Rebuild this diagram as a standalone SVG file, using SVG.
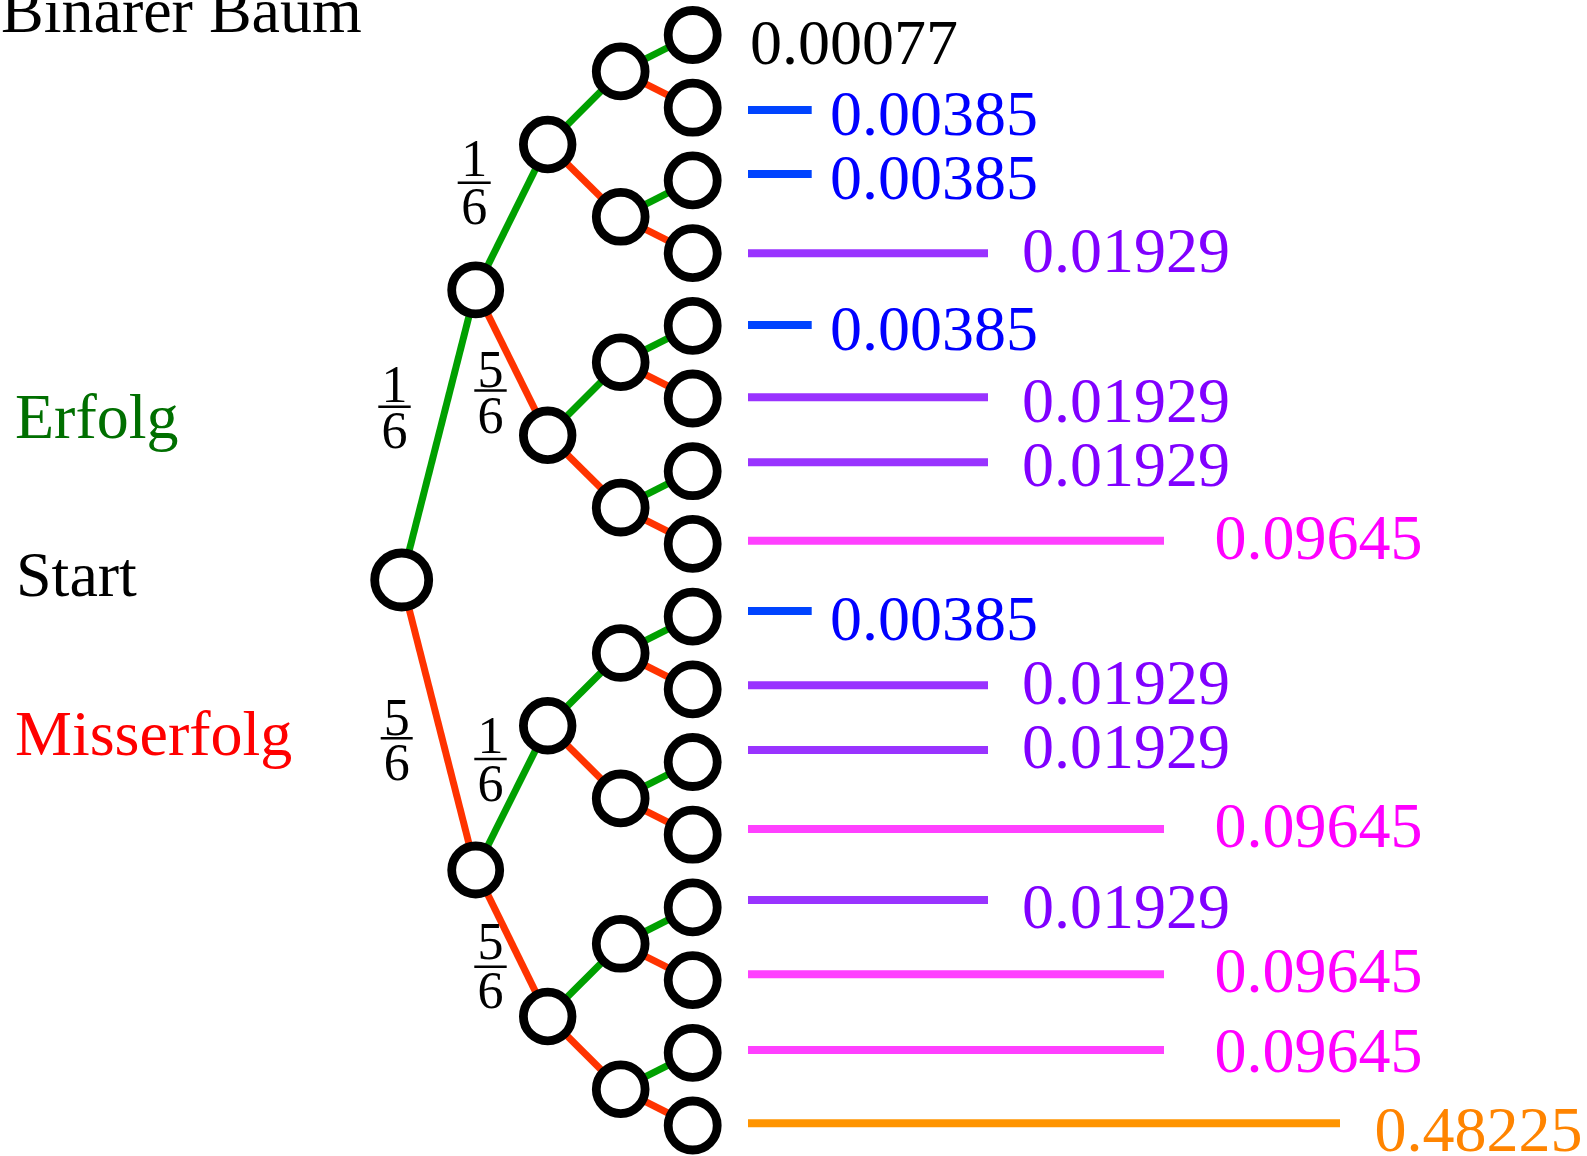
<svg xmlns="http://www.w3.org/2000/svg" width="1587" height="1156" viewBox="0 0 1587 1156">
  <style>
    text { font-family: "Liberation Serif", "Times New Roman", serif; }
    .big { font-size: 64px; }
    .frac { font-size: 52px; text-anchor: middle; fill: #000; }
    .bar { stroke: #000; stroke-width: 2.6; }
    .node { fill: #fff; stroke: #000; stroke-width: 8.8; }
    .succ { stroke: #00a000; stroke-width: 7; }
    .fail { stroke: #ff3300; stroke-width: 7; }
    .bl { stroke-width: 8; stroke-linecap: butt; }
    .c1 { stroke: #0044ff; }
    .c2 { stroke: #9933ff; }
    .c3 { stroke: #ff40ff; }
    .c4 { stroke: #ff9400; }
    .t0 { fill: #000; }
    .t1 { fill: #0000ff; }
    .t2 { fill: #8000ff; }
    .t3 { fill: #ff00ff; }
    .t4 { fill: #ff8400; }
  </style>

  <!-- title and side labels -->
  <text class="big" x="1" y="32" fill="#000">Binarer Baum</text>
  <text class="big" x="15" y="438" fill="#006f00">Erfolg</text>
  <text class="big" x="16" y="596" fill="#000">Start</text>
  <text class="big" x="15" y="755" fill="#ff0000">Misserfolg</text>

  <!-- connectors: green = success, red = failure -->
  <g id="connectors">
    <line class="succ" x1="401.7" y1="580" x2="475.7" y2="289.9"/>
    <line class="fail" x1="401.7" y1="580" x2="475.7" y2="870"/>

    <line class="succ" x1="475.7" y1="289.9" x2="547.7" y2="144.5"/>
    <line class="fail" x1="475.7" y1="289.9" x2="547.7" y2="435.3"/>
    <line class="succ" x1="475.7" y1="870" x2="547.7" y2="725.7"/>
    <line class="fail" x1="475.7" y1="870" x2="547.7" y2="1016.5"/>

    <line class="succ" x1="547.7" y1="144.5" x2="620.7" y2="71.4"/>
    <line class="fail" x1="547.7" y1="144.5" x2="620.7" y2="216.8"/>
    <line class="succ" x1="547.7" y1="435.3" x2="620.7" y2="362.2"/>
    <line class="fail" x1="547.7" y1="435.3" x2="620.7" y2="507.6"/>
    <line class="succ" x1="547.7" y1="725.7" x2="620.7" y2="653"/>
    <line class="fail" x1="547.7" y1="725.7" x2="620.7" y2="798.4"/>
    <line class="succ" x1="547.7" y1="1016.5" x2="620.7" y2="943.8"/>
    <line class="fail" x1="547.7" y1="1016.5" x2="620.7" y2="1089.2"/>

    <line class="succ" x1="620.7" y1="71.4" x2="692.7" y2="35"/>
    <line class="fail" x1="620.7" y1="71.4" x2="692.7" y2="107.7"/>
    <line class="succ" x1="620.7" y1="216.8" x2="692.7" y2="180.4"/>
    <line class="fail" x1="620.7" y1="216.8" x2="692.7" y2="253.1"/>
    <line class="succ" x1="620.7" y1="362.2" x2="692.7" y2="325.8"/>
    <line class="fail" x1="620.7" y1="362.2" x2="692.7" y2="398.5"/>
    <line class="succ" x1="620.7" y1="507.6" x2="692.7" y2="471.2"/>
    <line class="fail" x1="620.7" y1="507.6" x2="692.7" y2="543.9"/>
    <line class="succ" x1="620.7" y1="653" x2="692.7" y2="616.6"/>
    <line class="fail" x1="620.7" y1="653" x2="692.7" y2="689.3"/>
    <line class="succ" x1="620.7" y1="798.4" x2="692.7" y2="762"/>
    <line class="fail" x1="620.7" y1="798.4" x2="692.7" y2="834.7"/>
    <line class="succ" x1="620.7" y1="943.8" x2="692.7" y2="907.4"/>
    <line class="fail" x1="620.7" y1="943.8" x2="692.7" y2="980.1"/>
    <line class="succ" x1="620.7" y1="1089.2" x2="692.7" y2="1052.8"/>
    <line class="fail" x1="620.7" y1="1089.2" x2="692.7" y2="1125.5"/>
  </g>

  <!-- branch probabilities -->
  <g id="fractions">
    <text class="frac" x="394.5" y="401.7">1</text>
    <line class="bar" x1="378.3" y1="406.7" x2="410.7" y2="406.7"/>
    <text class="frac" x="394.5" y="448.3">6</text>

    <text class="frac" x="474.2" y="176">1</text>
    <line class="bar" x1="457.7" y1="182.7" x2="490.7" y2="182.7"/>
    <text class="frac" x="474.2" y="224">6</text>

    <text class="frac" x="490.5" y="387.3">5</text>
    <line class="bar" x1="474.3" y1="390.5" x2="506.7" y2="390.5"/>
    <text class="frac" x="490.5" y="433.3">6</text>

    <text class="frac" x="396.7" y="735">5</text>
    <line class="bar" x1="380.7" y1="738.3" x2="412.7" y2="738.3"/>
    <text class="frac" x="396.7" y="780">6</text>

    <text class="frac" x="490.5" y="753.3">1</text>
    <line class="bar" x1="474.3" y1="759" x2="506.7" y2="759"/>
    <text class="frac" x="490.5" y="800.7">6</text>

    <text class="frac" x="490.5" y="959.3">5</text>
    <line class="bar" x1="474.3" y1="966.7" x2="506.7" y2="966.7"/>
    <text class="frac" x="490.5" y="1007.7">6</text>
  </g>

  <!-- nodes -->
  <g id="n-root"><circle class="node" cx="401.7" cy="580" r="27"/></g>
  <g id="n-e"><circle class="node" cx="475.7" cy="289.9" r="24"/></g>
  <g id="n-m"><circle class="node" cx="475.7" cy="870" r="24"/></g>
  <g id="n-ee"><circle class="node" cx="547.7" cy="144.5" r="24.3"/></g>
  <g id="n-em"><circle class="node" cx="547.7" cy="435.3" r="24.3"/></g>
  <g id="n-me"><circle class="node" cx="547.7" cy="725.7" r="24.3"/></g>
  <g id="n-mm"><circle class="node" cx="547.7" cy="1016.5" r="24.3"/></g>
  <g id="n-eee"><circle class="node" cx="620.7" cy="71.4" r="24.4"/></g>
  <g id="n-eem"><circle class="node" cx="620.7" cy="216.8" r="24.4"/></g>
  <g id="n-eme"><circle class="node" cx="620.7" cy="362.2" r="24.4"/></g>
  <g id="n-emm"><circle class="node" cx="620.7" cy="507.6" r="24.4"/></g>
  <g id="n-mee"><circle class="node" cx="620.7" cy="653" r="24.4"/></g>
  <g id="n-mem"><circle class="node" cx="620.7" cy="798.4" r="24.4"/></g>
  <g id="n-mme"><circle class="node" cx="620.7" cy="943.8" r="24.4"/></g>
  <g id="n-mmm"><circle class="node" cx="620.7" cy="1089.2" r="24.4"/></g>
  <g id="n-eeee"><circle class="node" cx="692.7" cy="35" r="24.5"/></g>
  <g id="n-eeem"><circle class="node" cx="692.7" cy="107.7" r="24.5"/></g>
  <g id="n-eeme"><circle class="node" cx="692.7" cy="180.4" r="24.5"/></g>
  <g id="n-eemm"><circle class="node" cx="692.7" cy="253.1" r="24.5"/></g>
  <g id="n-emee"><circle class="node" cx="692.7" cy="325.8" r="24.5"/></g>
  <g id="n-emem"><circle class="node" cx="692.7" cy="398.5" r="24.5"/></g>
  <g id="n-emme"><circle class="node" cx="692.7" cy="471.2" r="24.5"/></g>
  <g id="n-emmm"><circle class="node" cx="692.7" cy="543.9" r="24.5"/></g>
  <g id="n-meee"><circle class="node" cx="692.7" cy="616.6" r="24.5"/></g>
  <g id="n-meem"><circle class="node" cx="692.7" cy="689.3" r="24.5"/></g>
  <g id="n-meme"><circle class="node" cx="692.7" cy="762" r="24.5"/></g>
  <g id="n-memm"><circle class="node" cx="692.7" cy="834.7" r="24.5"/></g>
  <g id="n-mmee"><circle class="node" cx="692.7" cy="907.4" r="24.5"/></g>
  <g id="n-mmem"><circle class="node" cx="692.7" cy="980.1" r="24.5"/></g>
  <g id="n-mmme"><circle class="node" cx="692.7" cy="1052.8" r="24.5"/></g>
  <g id="n-mmmm"><circle class="node" cx="692.7" cy="1125.5" r="24.5"/></g>

  <!-- path probabilities: bar length on a log scale -->
  <g id="results">
    <text class="big t0" x="750" y="64.3">0.00077</text>

    <line class="bl c1" x1="748" y1="110" x2="811.7" y2="110"/>
    <text class="big t1" x="830" y="135">0.00385</text>

    <line class="bl c1" x1="748" y1="174" x2="811.7" y2="174"/>
    <text class="big t1" x="830" y="199.3">0.00385</text>

    <line class="bl c2" x1="748" y1="253.3" x2="988" y2="253.3"/>
    <text class="big t2" x="1022" y="271.7">0.01929</text>

    <line class="bl c1" x1="748" y1="325" x2="811.7" y2="325"/>
    <text class="big t1" x="830" y="350">0.00385</text>

    <line class="bl c2" x1="748" y1="397.3" x2="988" y2="397.3"/>
    <text class="big t2" x="1022" y="421.7">0.01929</text>

    <line class="bl c2" x1="748" y1="462.3" x2="988" y2="462.3"/>
    <text class="big t2" x="1022" y="485.7">0.01929</text>

    <line class="bl c3" x1="748" y1="540.7" x2="1164" y2="540.7"/>
    <text class="big t3" x="1214.5" y="559">0.09645</text>

    <line class="bl c1" x1="748" y1="611" x2="811.7" y2="611"/>
    <text class="big t1" x="830" y="640">0.00385</text>

    <line class="bl c2" x1="748" y1="685.3" x2="988" y2="685.3"/>
    <text class="big t2" x="1022" y="704">0.01929</text>

    <line class="bl c2" x1="748" y1="750" x2="988" y2="750"/>
    <text class="big t2" x="1022" y="767.7">0.01929</text>

    <line class="bl c3" x1="748" y1="829" x2="1164" y2="829"/>
    <text class="big t3" x="1214.5" y="846.7">0.09645</text>

    <line class="bl c2" x1="748" y1="900" x2="988" y2="900"/>
    <text class="big t2" x="1022" y="928.3">0.01929</text>

    <line class="bl c3" x1="748" y1="974.3" x2="1164" y2="974.3"/>
    <text class="big t3" x="1214.5" y="991.7">0.09645</text>

    <line class="bl c3" x1="748" y1="1050" x2="1164" y2="1050"/>
    <text class="big t3" x="1214.5" y="1071.7">0.09645</text>

    <line class="bl c4" x1="748" y1="1123.3" x2="1340" y2="1123.3"/>
    <text class="big t4" x="1374.5" y="1150.5">0.48225</text>
  </g>
</svg>
